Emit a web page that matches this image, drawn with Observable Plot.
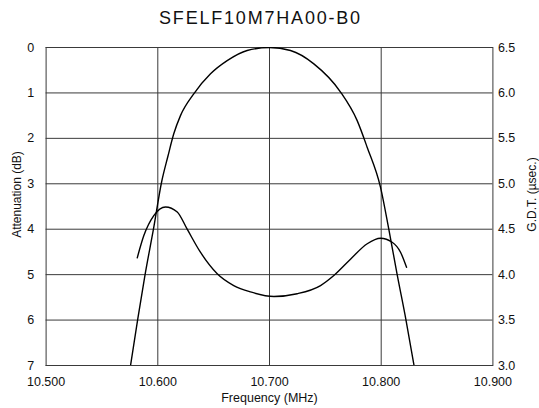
<!DOCTYPE html>
<html>
<head>
<meta charset="utf-8">
<script src="https://cdn.jsdelivr.net/npm/d3@7"></script>
<script src="https://cdn.jsdelivr.net/npm/@observablehq/plot@0.6"></script>
<style>
  body { margin: 0; background: #fff; }
  #title { width: 539px; height: 35px; box-sizing: border-box; padding-top: 8px; padding-right: 18px;
    font-family: "Liberation Sans", Arial, sans-serif; font-size: 18px; line-height: 20px;
    letter-spacing: 1.8px; text-align: center; color: #111; }
</style>
</head>
<body>
<div id="title">SFELF10M7HA00-B0</div>
<div id="chart"></div>
<script>
// Attenuation curve (frequency MHz, dB)
const attFreq = [10.5756, 10.5819, 10.5886, 10.5961, 10.6035, 10.609, 10.6143, 10.6203, 10.6322, 10.6472, 10.6621, 10.680, 10.700, 10.7188, 10.7397, 10.7636, 10.7785, 10.7875, 10.7994, 10.8068, 10.8143, 10.8222, 10.8294];
const attDb   = [7.0, 6.0, 5.0, 4.0, 2.95, 2.40, 1.90, 1.50, 1.02, 0.58, 0.29, 0.066, 0.0, 0.066, 0.36, 0.98, 1.61, 2.20, 3.08, 4.0, 5.0, 6.0, 7.0];

// Group delay time curve (frequency MHz, µsec)
const gdtFreq = [10.5816, 10.5875, 10.5964, 10.6069, 10.6174, 10.6263, 10.638, 10.6532, 10.668, 10.683, 10.704, 10.7248, 10.7457, 10.7576, 10.7725, 10.7875, 10.7994, 10.8098, 10.8173, 10.8227];
const gdtUs   = [4.185, 4.43, 4.65, 4.745, 4.69, 4.50, 4.25, 4.01, 3.88, 3.81, 3.76, 3.79, 3.88, 3.99, 4.17, 4.34, 4.40, 4.357, 4.247, 4.08];

const xTicks = [10.5, 10.6, 10.7, 10.8, 10.9];
const xGrid = [10.6, 10.7, 10.8];
const yTicks = [0, 1, 2, 3, 4, 5, 6, 7];
const gdtTicks = [6.5, 6.0, 5.5, 5.0, 4.5, 4.0, 3.5, 3.0];

// right axis mapping: 6.5 µs at 0 dB, 3.0 µs at 7 dB
const gdtToDb = g => (6.5 - g) * 2;
const dbToGdt = d => 6.5 - d / 2;

const att = attFreq.map((f, i) => ({f, v: attDb[i]}));
const gdt = gdtFreq.map((f, i) => ({f, v: gdtToDb(gdtUs[i])}));

const font = "Liberation Sans, Arial, sans-serif";

const chart = Plot.plot({
  width: 539,
  height: 373,
  marginLeft: 45.6,
  marginRight: 46.6,
  marginTop: 12,
  marginBottom: 43,
  style: {fontFamily: font, fontSize: "12.5px", color: "#111", background: "#fff"},
  x: {domain: [10.5, 10.9]},
  y: {domain: [0, 7], reverse: true},
  marks: [
    Plot.ruleY(yTicks, {stroke: "#3a3a3a", strokeWidth: 1}),
    Plot.ruleX(xGrid, {stroke: "#3a3a3a", strokeWidth: 1}),
    Plot.frame({stroke: "#3a3a3a", strokeWidth: 1}),
    Plot.line(att, {x: "f", y: "v", curve: "monotone-x", stroke: "#000", strokeWidth: 1.4, clip: true}),
    Plot.line(gdt, {x: "f", y: "v", curve: "monotone-x", stroke: "#000", strokeWidth: 1.4}),
    Plot.axisX(xTicks, {tickSize: 0, tickPadding: 12, tickFormat: d3.format(".3f"), label: null}),
    Plot.axisY(yTicks, {anchor: "left", tickSize: 0, tickPadding: 12, tickFormat: d => String(d), label: null}),
    Plot.axisY(gdtTicks.map(gdtToDb), {anchor: "right", tickSize: 0, tickPadding: 5, tickFormat: d => dbToGdt(d).toFixed(1), label: null}),
    Plot.text(["Attenuation (dB)"], {text: d => d, frameAnchor: "left", textAnchor: "middle", lineAnchor: "middle", rotate: -90, dx: -29, dy: -12, fontSize: 12}),
    Plot.text(["G.D.T. (µsec.)"], {text: d => d, frameAnchor: "right", textAnchor: "middle", lineAnchor: "middle", rotate: -90, dx: 39, dy: -12, fontSize: 12}),
    Plot.text(["Frequency (MHz)"], {text: d => d, frameAnchor: "bottom", textAnchor: "middle", lineAnchor: "middle", dy: 32.7, fontSize: 12.5})
  ]
});
document.getElementById("chart").appendChild(chart);
</script>
</body>
</html>
